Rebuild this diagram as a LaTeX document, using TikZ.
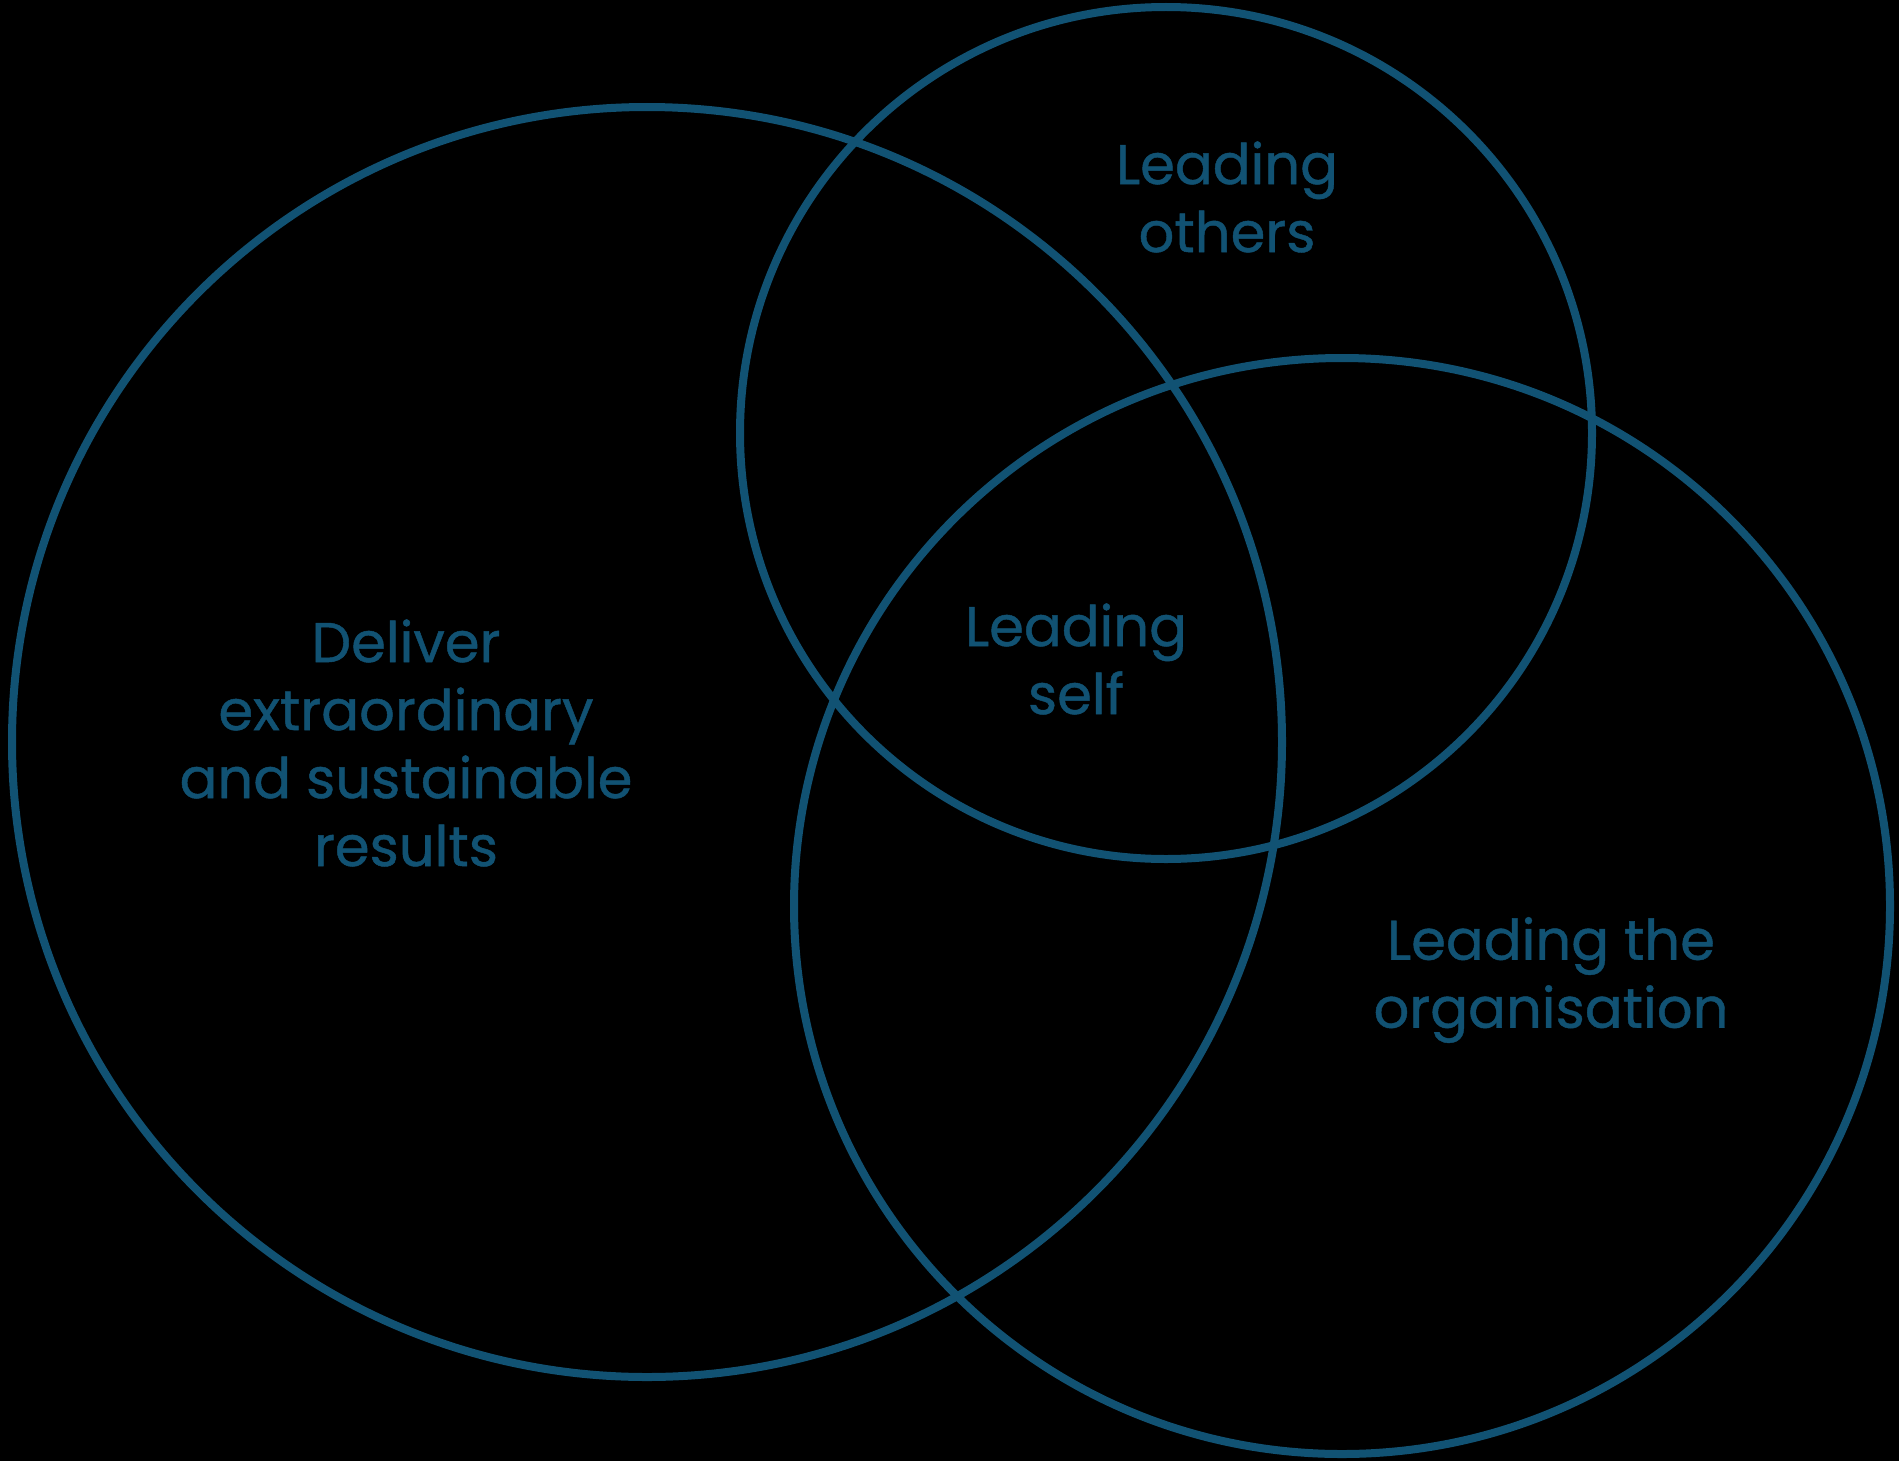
\documentclass[tikz,border=0pt]{standalone}
\usepackage{fontspec}
\setmainfont{Poppins}[FakeBold=0.8]
\usetikzlibrary{positioning}

\definecolor{venn blue}{RGB}{17,82,115}

\begin{document}
\begin{tikzpicture}[
      x=0.5pt, y=0.5pt,
      ring/.style ={draw=venn blue, line width=4pt},
      venn label/.style ={text=venn blue, align=center, inner sep=0pt,
        font=\fontsize{28}{34}\selectfont}
      ]
    \fill[black] (0,0) rectangle (1899,-1461);
    \useasboundingbox (0,0) rectangle (1899,-1461);
    % circle centres
    \coordinate (results centre) at (647,-742);
    \coordinate (others centre) at (1166,-433);
    \coordinate (organisation centre) at (1342,-906);
    \draw[ring] (results centre) circle [radius=635];
    \draw[ring] (others centre) circle [radius=426];
    \draw[ring] (organisation centre) circle [radius=548];
    % labels
    \node[venn label] (results) at (406,-743) {Deliver\\extraordinary\\and sustainable\\results};
    \node[venn label] (self) at (1076,-659) {Leading\\self};
    \node[venn label] (others) at (1227,-197) {Leading\\others};
    \node[venn label] (organisation) at (1551,-980) {Leading the\\organisation};
\end{tikzpicture}
\end{document}
